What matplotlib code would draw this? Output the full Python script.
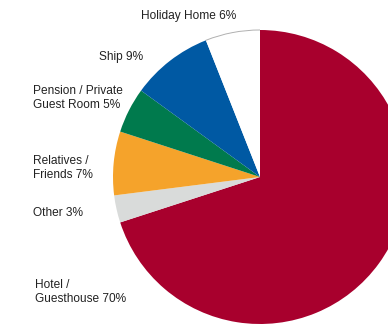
import matplotlib.pyplot as plt
from matplotlib.patches import Arc

plt.rcParams['font.family'] = ['Liberation Sans', 'DejaVu Sans']

categories = ['Hotel /\nGuesthouse', 'Other', 'Relatives /\nFriends',
              'Pension / Private\nGuest Room', 'Ship', 'Holiday Home']
shares = [70, 3, 7, 5, 9, 6]
colors = ['#a8002d', '#d9dbda', '#f5a32b', '#007a4d', '#0059a3', '#ffffff']

# label anchor points in pixel space (x, y from top) and alignment
label_pos = [(35, 292, 'left'), (33, 213, 'left'), (33, 168, 'left'),
             (33, 98, 'left'), (143, 57, 'right'), (189, 16, 'center')]

W, H = 388, 328
cx, cy, r = 260, H - 177, 147

fig = plt.figure(figsize=(W / 100, H / 100), dpi=100)
ax = fig.add_axes([0, 0, 1, 1])
ax.axis('off')

wedges, _ = ax.pie(shares, colors=colors, startangle=90, counterclock=False,
                   center=(cx, cy), radius=r, wedgeprops=dict(linewidth=0))
# white slice only gets a faint line along its outer arc
w = wedges[-1]
ax.add_patch(Arc((cx, cy), 2 * r, 2 * r, theta1=w.theta1, theta2=w.theta2,
                 color='#b0b0b0', lw=0.7))
ax.set_xlim(0, W)
ax.set_ylim(0, H)
ax.set_aspect('equal')

for name, val, (x, y, ha) in zip(categories, shares, label_pos):
    ax.text(x, H - y, f'{name} {val}%', ha=ha, va='center', fontsize=8.6,
            color='#222222', linespacing=1.3)

fig.savefig('out.png', dpi=100)
